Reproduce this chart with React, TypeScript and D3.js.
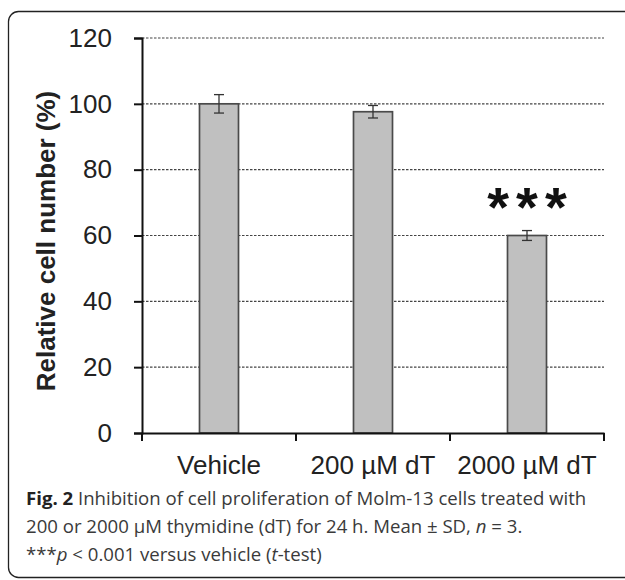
import React, { useEffect, useRef } from "react";
import * as d3 from "d3";

const categories = ["Vehicle", "200 µM dT", "2000 µM dT"];
const means = [100, 97.6, 60];
const sds = [2.8, 1.9, 1.5];
const stars = ["", "", "***"];
const yTicks = [0, 20, 40, 60, 80, 100, 120];

const App = () => {
  const svgRef = useRef<SVGSVGElement>(null);

  useEffect(() => {
    const margin = { top: 38, right: 21, bottom: 147, left: 142 };
    const chartFont = "Liberation Sans, Arial, sans-serif";

    const root = d3.select(svgRef.current);
    root.selectAll("*").remove();

    // outer frame
    root
      .append("rect")
      .attr("x", 8.5)
      .attr("y", 11.5)
      .attr("width", 640)
      .attr("height", 566)
      .attr("rx", 10)
      .attr("fill", "none")
      .attr("stroke", "#222")
      .attr("stroke-width", 1.3);

    const svg = root
      .append("g")
      .attr("transform", `translate(${margin.left}, ${margin.top})`);

    const w = 625 - margin.left - margin.right;
    const h = 580 - margin.top - margin.bottom;

    const x = d3.scaleBand().domain(categories).range([0, w]).padding(0);
    const y = d3.scaleLinear().domain([0, 120]).range([h, 0]);

    // dotted gridlines
    svg
      .selectAll("line.grid")
      .data(yTicks.filter((d) => d > 0))
      .enter()
      .append("line")
      .attr("class", "grid")
      .attr("x1", 0)
      .attr("x2", w)
      .attr("y1", (d) => y(d))
      .attr("y2", (d) => y(d))
      .attr("stroke", "#444")
      .attr("stroke-width", 1.1)
      .attr("stroke-dasharray", "2.5,1.5");

    const barW = 39;
    const data = categories.map((c, i) => ({
      c,
      m: means[i],
      sd: sds[i],
      s: stars[i],
    }));
    const cx = (d) => x(d.c)! + x.bandwidth() / 2;

    svg
      .selectAll("rect.bar")
      .data(data)
      .enter()
      .append("rect")
      .attr("class", "bar")
      .attr("x", (d) => cx(d) - barW / 2)
      .attr("y", (d) => y(d.m))
      .attr("width", barW)
      .attr("height", (d) => y(0) - y(d.m))
      .attr("fill", "#c0c0c0")
      .attr("stroke", "#4a4a4a")
      .attr("stroke-width", 1.7);

    // error bars
    const eb = svg
      .selectAll("g.err")
      .data(data)
      .enter()
      .append("g")
      .attr("class", "err")
      .attr("stroke", "#333")
      .attr("stroke-width", 1.3);
    eb.append("line")
      .attr("x1", cx)
      .attr("x2", cx)
      .attr("y1", (d) => y(d.m + d.sd))
      .attr("y2", (d) => y(d.m - d.sd));
    [1, -1].forEach((sgn) => {
      eb.append("line")
        .attr("x1", (d) => cx(d) - 5)
        .attr("x2", (d) => cx(d) + 5)
        .attr("y1", (d) => y(d.m + sgn * d.sd))
        .attr("y2", (d) => y(d.m + sgn * d.sd));
    });

    // significance stars
    const ls = 7;
    svg
      .selectAll("text.star")
      .data(data.filter((d) => d.s))
      .enter()
      .append("text")
      .attr("class", "star")
      .attr("x", (d) => cx(d) + ls / 2)
      .attr("y", (d) => y(d.m) - 10)
      .attr("text-anchor", "middle")
      .attr("font-family", chartFont)
      .attr("font-weight", "bold")
      .attr("font-size", 56)
      .attr("letter-spacing", ls)
      .attr("fill", "#111")
      .text((d) => d.s);

    // axes
    const yAxis = svg
      .append("g")
      .call(d3.axisLeft(y).tickValues(yTicks).tickSize(8).tickPadding(22));
    yAxis.select(".domain").attr("stroke", "#111").attr("stroke-width", 2);
    yAxis.selectAll(".tick line").attr("stroke", "#111").attr("stroke-width", 2);
    yAxis
      .selectAll(".tick text")
      .attr("font-family", chartFont)
      .attr("font-size", 26)
      .attr("fill", "#222");

    const xAxis = svg
      .append("g")
      .attr("transform", `translate(0, ${h})`)
      .call(d3.axisBottom(x).tickSize(0).tickPadding(23));
    xAxis.select(".domain").attr("stroke", "#111").attr("stroke-width", 2);
    xAxis
      .selectAll(".tick text")
      .attr("font-family", chartFont)
      .attr("font-size", 26)
      .attr("fill", "#222");
    // ticks between categories
    svg
      .selectAll("line.xtick")
      .data([0, 1, 2, 3])
      .enter()
      .append("line")
      .attr("x1", (d) => (d * w) / 3)
      .attr("x2", (d) => (d * w) / 3)
      .attr("y1", h)
      .attr("y2", h + 8)
      .attr("stroke", "#111")
      .attr("stroke-width", 2);

    // y label
    root
      .append("text")
      .attr("transform", `translate(55, 241) rotate(-90)`)
      .attr("text-anchor", "middle")
      .attr("font-family", chartFont)
      .attr("font-weight", "bold")
      .attr("font-size", 26)
      .attr("fill", "#222")
      .text("Relative cell number (%)");

    // caption
    const cap = root
      .append("text")
      .attr("font-family", "Open Sans, sans-serif")
      .attr("font-size", 18.6)
      .attr("fill", "#3a3a3a");
    const l1 = cap.append("tspan").attr("x", 26).attr("y", 505);
    l1.append("tspan").attr("font-weight", "bold").attr("fill", "#222").text("Fig. 2");
    l1.append("tspan").text(
      " Inhibition of cell proliferation of Molm-13 cells treated with"
    );
    const l2 = cap.append("tspan").attr("x", 26).attr("y", 533);
    l2.append("tspan").text(
      "200 or 2000 µM thymidine (dT) for 24 h. Mean ± SD, "
    );
    l2.append("tspan").attr("font-style", "italic").text("n");
    l2.append("tspan").text(" = 3.");
    const l3 = cap.append("tspan").attr("x", 26).attr("y", 561);
    l3.append("tspan").text("***");
    l3.append("tspan").attr("font-style", "italic").text("p");
    l3.append("tspan").text(" < 0.001 versus vehicle (");
    l3.append("tspan").attr("font-style", "italic").text("t");
    l3.append("tspan").text("-test)");
  }, []);

  return (
    <svg
      ref={svgRef}
      width={625}
      height={580}
      style={{ position: "absolute", left: 0, top: 0, background: "#fff" }}
    ></svg>
  );
};

export default App;
